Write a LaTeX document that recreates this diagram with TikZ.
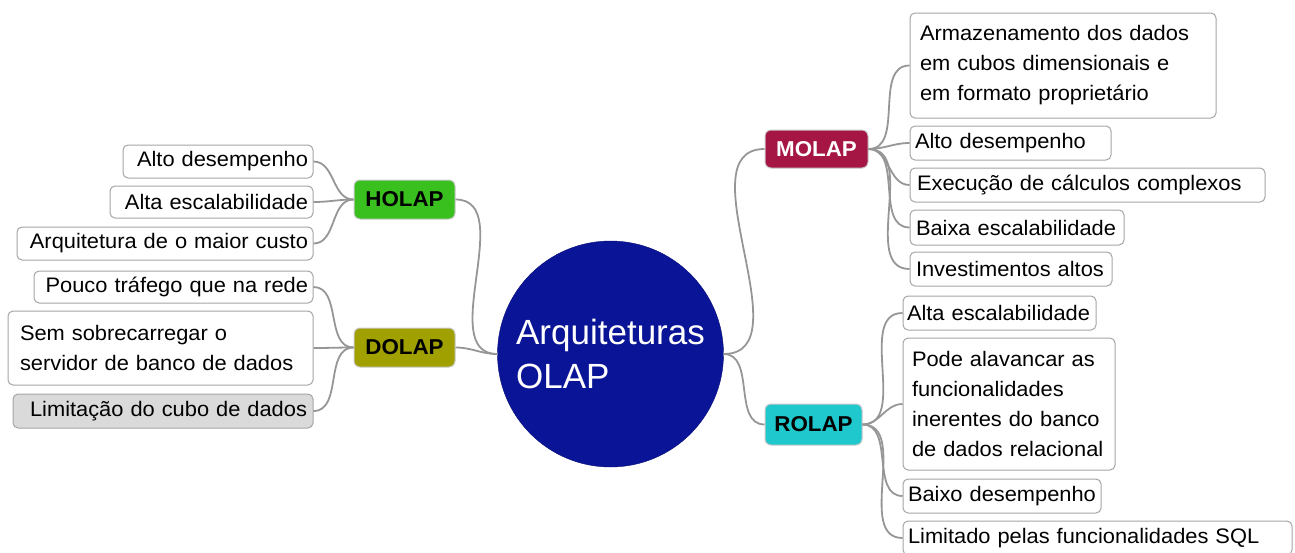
\documentclass[tikz,border=0pt]{standalone}
\usepackage{fontspec}
\setmainfont{Liberation Sans}[FakeStretch=1.04]
\newfontfamily\centerfont{Liberation Sans}
\definecolor{linkgray}{RGB}{150,150,150}
\definecolor{boxgray}{RGB}{165,165,165}
\definecolor{holapgreen}{RGB}{58,192,30}
\definecolor{dolapolive}{RGB}{160,160,0}
\definecolor{molapred}{RGB}{165,22,68}
\definecolor{rolapcyan}{RGB}{30,200,205}
\definecolor{centerblue}{RGB}{10,20,150}
\definecolor{limitgray}{RGB}{218,218,218}
\tikzset{
  leaf/.style={draw=boxgray, line width=1pt, rounded corners=5pt, inner ysep=0pt, inner xsep=5pt,
    fill=white, font=\fontsize{21}{30}\selectfont},
  lleaf/.style={leaf, align=right},
  rleaf/.style={leaf, align=left},
  hub/.style={draw=boxgray!60, line width=1pt, rounded corners=6pt, inner sep=0pt,
    font=\fontsize{21.5}{25}\selectfont\bfseries, minimum width=101pt, minimum height=39pt},
  link/.style={draw=linkgray, line width=1.8pt},
}
\begin{document}
\begin{tikzpicture}[x=1pt,y=-1pt]
\useasboundingbox (0,0) rectangle (1295,552);

% center
\node[circle, fill=centerblue, draw=centerblue!80!black, minimum size=226pt,
  inner sep=0pt, text=white, align=left, font=\centerfont\fontsize{35}{44}\selectfont] (c) at (610.5,354)
  {Arquiteturas\\OLAP};

% hubs
\node[hub, fill=holapgreen] (hol) at (404.5,199.5) {HOLAP};
\node[hub, fill=dolapolive] (dol) at (404.5,347.5) {DOLAP};
\node[hub, fill=molapred, text=white, minimum width=103pt, minimum height=38pt] (mol) at (816.5,149) {MOLAP};
\node[hub, fill=rolapcyan, minimum width=97pt, minimum height=41pt] (rol) at (813.5,424.5) {ROLAP};

% left leaves
\node[lleaf, text width=180pt, minimum height=33pt] (h1) at (218,161.5) {\mbox{Alto desempenho}};
\node[lleaf, text width=193pt, minimum height=32pt] (h2) at (211.5,202) {\mbox{Alta escalabilidade}};
\node[lleaf, text width=286pt, minimum height=33pt] (h3) at (165,243.5) {\mbox{Arquitetura de o maior custo}};
\node[lleaf, text width=269pt, minimum height=32pt] (d1) at (173.5,287) {\mbox{Pouco tráfego que na rede}};
\node[rleaf, inner xsep=12pt, text width=281pt, minimum height=74pt] (d2) at (160.5,348) {\mbox{Sem sobrecarregar o}\\\mbox{servidor de banco de dados}};
\node[lleaf, fill=limitgray, inner xsep=6pt, text width=288pt, minimum height=34pt] (d3) at (163,411) {\mbox{Limitação do cubo de dados}};

% right leaves MOLAP
\node[rleaf, inner xsep=10pt, text width=286pt, minimum height=105pt] (m1) at (1063,65.5) {\mbox{Armazenamento dos dados}\\\mbox{em cubos dimensionais e}\\\mbox{em formato proprietário}};
\node[rleaf, text width=191pt, minimum height=34pt] (m2) at (1010.5,143) {\mbox{Alto desempenho}};
\node[rleaf, inner xsep=7pt, text width=341pt, minimum height=34pt] (m3) at (1087.5,185) {\mbox{Execução de cálculos complexos}};
\node[rleaf, inner xsep=6pt, text width=202pt, minimum height=35pt] (m4) at (1017,227.5) {\mbox{Baixa escalabilidade}};
\node[rleaf, inner xsep=6pt, text width=190pt, minimum height=34pt] (m5) at (1011,269) {\mbox{Investimentos altos}};

% right leaves ROLAP
\node[rleaf, inner xsep=4pt, text width=185pt, minimum height=34pt] (r1) at (999.5,313) {\mbox{Alta escalabilidade}};
\node[rleaf, inner xsep=9pt, text width=194pt, minimum height=132pt] (r2) at (1009,404) {\mbox{Pode alavancar as}\\\mbox{funcionalidades}\\\mbox{inerentes do banco}\\\mbox{de dados relacional}};
\node[rleaf, inner xsep=5pt, text width=188pt, minimum height=34pt] (r3) at (1002,496) {\mbox{Baixo desempenho}};
\node[rleaf, inner xsep=5pt, text width=379pt, minimum height=34pt] (r4) at (1097.5,538) {\mbox{Limitado pelas funcionalidades SQL}};

% connectors
\draw[link] (hol.east) to[out=0,in=180] (c.west);
\draw[link] (dol.east) to[out=0,in=180] (c.west);
\draw[link] (c.east) to[out=0,in=180] (mol.west);
\draw[link] (c.east) to[out=0,in=180] (rol.west);

\foreach \n in {h1,h2,h3} \draw[link] (hol.west) to[out=180,in=0] (\n.east);
\foreach \n in {d1,d2,d3} \draw[link] (dol.west) to[out=180,in=0] (\n.east);
\foreach \n in {m1,m2,m3,m4,m5} \draw[link] (mol.east) to[out=0,in=180] (\n.west);
\foreach \n in {r1,r2,r3,r4} \draw[link] (rol.east) to[out=0,in=180] (\n.west);
\end{tikzpicture}
\end{document}
